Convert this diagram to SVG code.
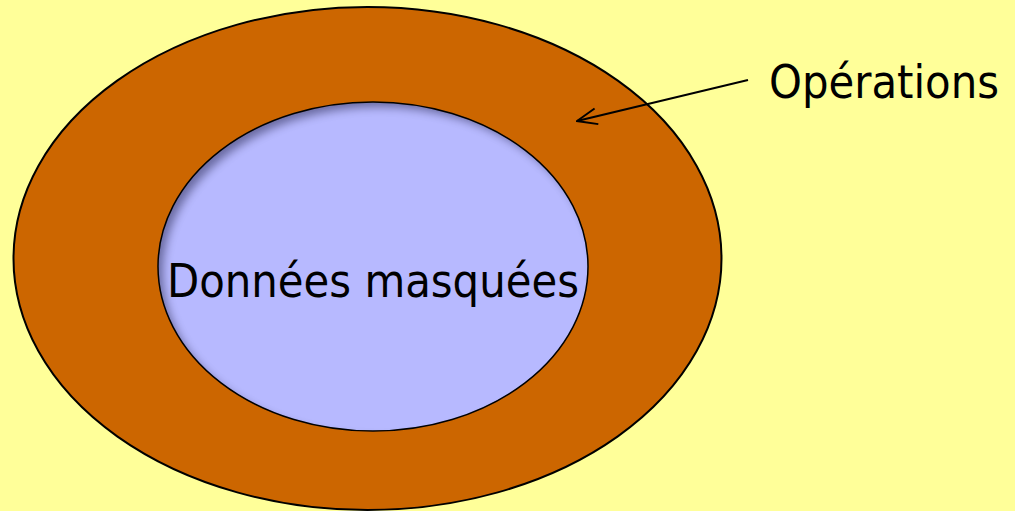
<svg xmlns="http://www.w3.org/2000/svg" width="1015" height="511" viewBox="0 0 1015 511">
<style>
.lbl{font-family:"DejaVu Sans Condensed","DejaVu Sans",sans-serif;font-size:46.5px;fill:#000}
</style>
<defs>
<filter id="inset" x="-10%" y="-10%" width="120%" height="120%">
<feOffset dx="6" dy="6" in="SourceAlpha" result="off"/>
<feGaussianBlur in="off" stdDeviation="4" result="blur"/>
<feComposite in="SourceAlpha" in2="blur" operator="out" result="inv"/>
<feFlood flood-color="#4a4a80" flood-opacity="0.8"/>
<feComposite in2="inv" operator="in" result="shadow"/>
<feMerge><feMergeNode in="SourceGraphic"/><feMergeNode in="shadow"/></feMerge>
</filter>
<marker id="arr" markerWidth="22" markerHeight="20" refX="21" refY="9" orient="auto" markerUnits="userSpaceOnUse" viewBox="0 0 22 18">
<path d="M1,1 L21,9 L1,17" fill="none" stroke="#000" stroke-width="2"/>
</marker>
</defs>
<rect width="1015" height="511" fill="#FFFF99"/>
<g id="operations">
<ellipse cx="367.5" cy="258.5" rx="354" ry="251.5" fill="#CC6600" stroke="#000" stroke-width="2"/>
<text class="lbl" x="769" y="98">Opérations</text>
</g>
<g id="donnees">
<ellipse cx="373" cy="266.5" rx="215" ry="164.5" fill="#B7B9FF" filter="url(#inset)"/>
<ellipse cx="373" cy="266.5" rx="215" ry="164.5" fill="none" stroke="#000" stroke-width="1.5"/>
<text class="lbl" x="373" y="297" text-anchor="middle">Données masquées</text>
</g>
<g id="connectors">
<line x1="748" y1="80" x2="577" y2="121" stroke="#000" stroke-width="2" marker-end="url(#arr)"/>
</g>
</svg>
